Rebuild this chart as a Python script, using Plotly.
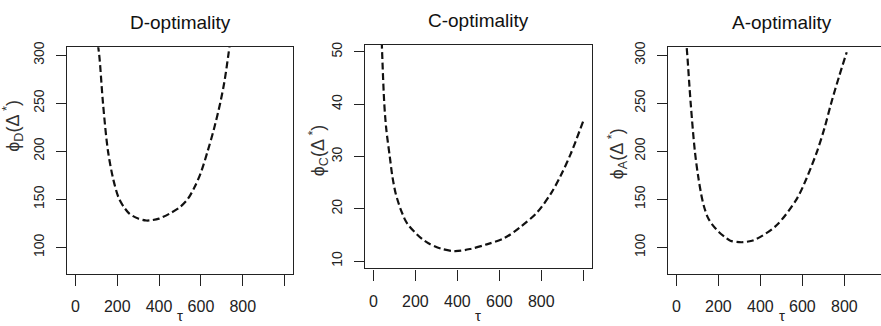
import plotly.graph_objects as go

W, H = 881, 326

# ---- data ----
tau_D = [100, 114, 132, 156, 182, 208, 235, 259, 300, 338, 370, 400, 449, 500, 536, 568, 600, 632, 662, 692, 712, 731, 742]
phi_D = [322, 300, 250, 200, 170, 151, 141, 135, 130, 128, 128.5, 130, 135, 142, 150, 162, 178, 200, 223, 250, 272, 300, 318]

tau_C = [38, 52, 62, 78, 90, 105, 118, 129, 140, 152, 170, 200, 230, 262, 320, 388, 460, 540, 624, 700, 782, 850, 892, 940, 999]
phi_C = [54, 40, 35, 30, 26.3, 23.1, 21.3, 20, 18.9, 17.8, 16.7, 15.4, 14.3, 13.4, 12.4, 11.9, 12.3, 13.2, 14.4, 16.5, 19.4, 23.2, 26.3, 30.5, 36.7]

tau_A = [44, 49, 68, 88, 105, 123, 135, 150, 170, 202, 230, 257, 310, 360, 400, 477, 572, 620, 670, 705, 737, 775, 811]
phi_A = [318, 308, 250, 200, 172, 150, 140, 131, 124, 116, 111, 107, 105.4, 107, 111, 123, 150, 172, 200, 224, 250, 278, 303]

x_ticks = [0, 200, 400, 600, 800, 1000]
x_ticktext = ["0", "200", "400", "600", "800", ""]
yD_ticks = [100, 150, 200, 250, 300]
yC_ticks = [10, 20, 30, 40, 50]
yA_ticks = [100, 150, 200, 250, 300]

titles = ["D-optimality", "C-optimality", "A-optimality"]
ylabels = ["ϕ<sub>D</sub>(Δ<sup> *</sup>)", "ϕ<sub>C</sub>(Δ<sup> *</sup>)", "ϕ<sub>A</sub>(Δ<sup> *</sup>)"]

# ---- layout geometry (pixels) ----
boxes = [  # left, right, top, bottom
    (67, 293, 42, 273),
    (365, 591.7, 39.3, 267.3),
    (668, 881, 42, 273),
]
xranges = [[-40, 1040], [-40, 1040], [-40, -40 + (881 - 668) / 0.21]]
yranges = [[72.4, 308.2], [8.6, 51.4], [72.4, 308.2]]
title_pos = [(180, 17), (478, 15), (781.5, 17)]
ylab_pos = [(13, 122), (318, 147), (617, 151)]
tau_centers = [180, 478, 781.5]

def px(x):
    return x / W

def py(y):
    return 1 - y / H

fig = go.Figure()
series = [(tau_D, phi_D), (tau_C, phi_C), (tau_A, phi_A)]
for i, (tx, ty) in enumerate(series):
    sfx = "" if i == 0 else str(i + 1)
    fig.add_trace(go.Scatter(
        x=tx, y=ty, mode="lines", xaxis="x" + sfx, yaxis="y" + sfx,
        line=dict(color="#111", width=2.2, dash="7px,3.5px", shape="spline", smoothing=0.9),
        showlegend=False, hoverinfo="skip",
    ))

axis_font = dict(family="Liberation Sans, Arial", size=16, color="#222")
yaxis_font = dict(family="Liberation Sans, Arial", size=14, color="#222")
ytick_sets = [yD_ticks, yC_ticks, yA_ticks]

layout = dict(
    width=W, height=H,
    margin=dict(l=0, r=0, t=0, b=0),
    paper_bgcolor="white", plot_bgcolor="white",
    showlegend=False,
    annotations=[],
)
for i in range(3):
    l, r, t, b = boxes[i]
    sfx = "" if i == 0 else str(i + 1)
    layout["xaxis" + sfx] = dict(
        domain=[px(l), min(1.0, px(r))], range=xranges[i], anchor="y" + sfx,
        showline=True, linecolor="#222", linewidth=1.3, mirror=True,
        ticks="outside", ticklen=11, tickwidth=1.3, tickcolor="#222",
        tickvals=x_ticks, ticktext=x_ticktext, tickfont=axis_font,
        ticklabelstandoff=7,
        showgrid=False, zeroline=False, fixedrange=True,
    )
    layout["yaxis" + sfx] = dict(
        domain=[py(b), py(t)], range=yranges[i], anchor="x" + sfx,
        showline=True, linecolor="#222", linewidth=1.3, mirror=(i != 2),
        ticks="outside", ticklen=10, tickwidth=1.3, tickcolor="#222",
        tickvals=ytick_sets[i], tickangle=-90, tickfont=yaxis_font,
        ticklabelstandoff=6,
        showgrid=False, zeroline=False, fixedrange=True,
    )
    cx, cy = title_pos[i]
    layout["annotations"].append(dict(
        text=titles[i], x=px(cx), y=py(cy), xref="paper", yref="paper",
        xanchor="center", yanchor="middle", showarrow=False,
        font=dict(family="Liberation Sans, Arial", size=19, color="#111"),
    ))
    lx, ly = ylab_pos[i]
    layout["annotations"].append(dict(
        text=ylabels[i], x=px(lx), y=py(ly), xref="paper", yref="paper",
        xanchor="center", yanchor="middle", showarrow=False, textangle=-90,
        font=dict(family="Liberation Sans, Arial", size=18, color="#333"),
    ))
    layout["annotations"].append(dict(
        text="τ", x=px(tau_centers[i]), y=0, xref="paper", yref="paper",
        xanchor="center", yanchor="bottom", showarrow=False,
        font=dict(family="Liberation Sans, Arial", size=15, color="#222"),
    ))

fig.update_layout(**layout)
fig.write_html("out.html")
